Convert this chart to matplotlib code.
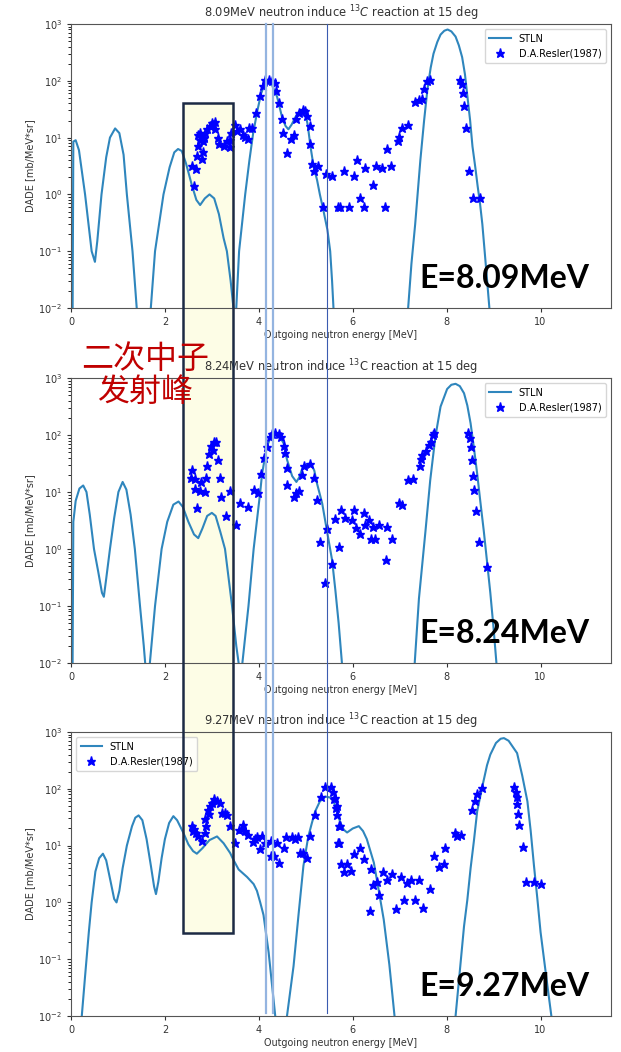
import matplotlib
matplotlib.use('Agg')
import matplotlib.pyplot as plt
from matplotlib.patches import Rectangle
from matplotlib.lines import Line2D
import matplotlib.transforms as mtransforms

CURVE = '#2f86bd'
STAR = '#0000ff'

# ---- E = 8.09 MeV ----
x1_stln = [0.03, 0.05, 0.10, 0.17, 0.30, 0.44, 0.51, 0.56, 0.65, 0.75, 0.83, 0.94, 1.03, 1.12, 1.19, 1.31, 1.40, 1.45,
           1.65, 1.70, 1.79, 1.97, 2.10, 2.20, 2.28, 2.36, 2.45, 2.57, 2.67, 2.75, 2.85, 2.95, 3.05, 3.15, 3.25, 3.32, 3.40, 3.46, 3.50,
           3.52, 3.58, 3.71, 3.80, 3.88, 3.97, 4.05, 4.12, 4.20, 4.28, 4.39, 4.50, 4.57, 4.63, 4.70, 4.78, 4.86, 4.93, 4.99, 5.04,
           5.10, 5.17, 5.24, 5.30, 5.37, 5.46, 5.52, 5.56, 5.59, 5.62,
           7.15, 7.18, 7.25, 7.33, 7.44, 7.52, 7.59, 7.66, 7.72, 7.80, 7.87, 7.95, 8.02, 8.10, 8.19, 8.26, 8.33, 8.39, 8.44, 8.50,
           8.55, 8.61, 8.66, 8.71, 8.76, 8.85, 8.91, 8.95]
y1_stln = [0.001, 8.5, 9.0, 6.0, 1.0, 0.1, 0.065, 0.15, 1.0, 4.5, 10, 14.5, 12, 5, 1.0, 0.1, 0.01, 0.004,
           0.003, 0.01, 0.1, 1.0, 3.0, 5.5, 6.3, 5.8, 3.5, 1.5, 0.8, 0.65, 0.85, 1.0, 0.85, 0.45, 0.17, 0.1, 0.03, 0.01, 0.004,
           0.01, 0.1, 1.0, 4.0, 12, 30, 60, 85, 95, 85, 52, 22, 16, 14, 17, 23, 29, 31, 27, 17,
           7, 3, 1.8, 1.0, 0.55, 0.24, 0.1, 0.03, 0.01, 0.004,
           0.004, 0.01, 0.06, 0.3, 4, 20, 70, 170, 300, 480, 650, 760, 800, 740, 600, 420, 260, 130, 55, 20,
           7, 3, 1.4, 0.7, 0.3, 0.04, 0.01, 0.004]
x1_exp = [2.57, 2.67, 2.61, 2.68, 2.79, 2.82, 2.71, 2.74, 2.71, 2.79, 2.82, 2.86, 2.75, 2.84, 2.89, 2.95, 3.00, 3.07,
          3.03, 3.07, 3.13, 3.16, 3.25, 3.32, 3.38, 3.40, 3.38, 3.50, 3.53, 3.60, 3.66, 3.71, 3.76, 3.80, 3.85, 3.94,
          4.03, 4.09, 4.14, 4.21, 4.28, 4.35, 4.37, 4.44, 4.49, 4.51, 4.68, 4.75, 4.61, 4.80, 4.85, 4.94, 4.99, 5.02,
          5.08, 5.10, 5.13, 5.17, 5.25, 5.44, 5.56, 5.37, 5.68, 5.72, 5.82, 5.91, 6.02, 6.10, 6.15, 6.23, 6.27, 6.43,
          6.50, 6.62, 6.68, 6.74, 6.82, 6.96, 6.99, 7.05, 7.17, 7.33, 7.41, 7.48, 7.51, 7.58, 7.65,
          8.28, 8.33, 8.35, 8.38, 8.42, 8.47, 8.57, 8.71]
y1_exp = [3.2, 2.8, 1.4, 4.8, 4.2, 5.5, 7.2, 9.1, 11, 10, 8.7, 12, 12, 9.8, 14, 16, 18, 19,
          17, 14, 10, 7.8, 7.2, 8.6, 6.9, 12, 9.1, 17, 13, 14, 11, 10.4, 9.5, 15, 15, 27,
          53, 81, 102, 102, 98, 91, 65, 41, 21, 12, 9.5, 11, 5.4, 21, 27, 31, 29, 24,
          16, 7.6, 3.5, 2.6, 3.1, 2.3, 2.1, 0.6, 0.6, 0.6, 2.6, 0.6, 2.1, 4.0, 0.87, 0.6, 2.9, 1.45,
          3.2, 2.9, 0.6, 6.3, 3.2, 8.7, 10.2, 15, 17, 43, 45, 47, 71, 100, 105,
          105, 89, 60, 36, 14.5, 2.6, 0.87, 0.87]

# ---- E = 8.24 MeV ----
x2_stln = [0.03, 0.05, 0.10, 0.18, 0.26, 0.33, 0.40, 0.49, 0.58, 0.66, 0.70, 0.75, 0.83, 0.92, 1.01, 1.10, 1.18, 1.27,
           1.36, 1.47, 1.55, 1.58, 1.62,
           1.65, 1.68, 1.79, 1.93, 2.05, 2.18, 2.29, 2.38, 2.50, 2.62, 2.71, 2.80, 2.90, 3.00, 3.08, 3.18, 3.28, 3.43,
           3.52, 3.57, 3.60,
           3.62, 3.65, 3.78, 3.89, 4.03, 4.07, 4.17, 4.26, 4.35, 4.44, 4.53, 4.60, 4.71, 4.80, 4.86, 4.92, 5.00, 5.10,
           5.18, 5.24, 5.35, 5.45, 5.56, 5.63, 5.70, 5.77, 5.80,
           7.29, 7.32, 7.41, 7.55, 7.65, 7.76, 7.87, 8.01, 8.10, 8.19, 8.28, 8.37, 8.44, 8.51, 8.58, 8.65, 8.72, 8.79,
           8.86, 8.93, 9.00, 9.06, 9.10]
y2_stln = [0.002, 3.0, 7, 11.5, 13, 10, 4, 1.0, 0.4, 0.17, 0.145, 0.3, 1.0, 3.5, 10, 15, 11, 4,
           1.0, 0.1, 0.02, 0.01, 0.004,
           0.004, 0.01, 0.1, 1.0, 3, 6, 6.8, 5.5, 3, 1.8, 1.55, 2.3, 3.8, 4.3, 3.8, 2, 1.0, 0.1,
           0.02, 0.01, 0.004,
           0.004, 0.01, 0.1, 1.0, 10, 21, 62, 95, 107, 95, 71, 37, 19, 15, 18, 25, 30, 32,
           24, 14, 6.3, 2.1, 0.64, 0.19, 0.05, 0.01, 0.004,
           0.004, 0.01, 0.135, 2.1, 16, 93, 314, 640, 760, 790, 720, 540, 330, 160, 60, 21, 6.5, 2.1,
           0.6, 0.17, 0.04, 0.01, 0.004]
x2_exp = [2.57, 2.55, 2.64, 2.64, 2.74, 2.77, 2.86, 2.88, 2.68, 2.89, 2.93, 2.98, 3.05, 3.09, 3.03, 3.14, 3.18,
          3.20, 3.30, 3.39, 3.52, 3.59, 3.78, 3.90, 3.99, 4.04, 4.12, 4.17, 4.23, 4.28, 4.35, 4.42, 4.48, 4.53,
          4.56, 4.60, 4.61, 4.74, 4.80, 4.85, 4.93, 4.97, 5.10, 5.18, 5.24, 5.45, 5.31, 5.56, 5.40, 5.63, 5.70,
          5.76, 5.84, 5.98, 6.02, 6.08, 6.15, 6.23, 6.27, 6.34, 6.38, 6.43, 6.48, 6.55, 6.70, 6.74, 6.84, 6.98,
          7.04, 7.17, 7.28, 7.43, 7.46, 7.48, 7.55, 7.62, 7.67, 7.70, 7.73,
          8.45, 8.49, 8.52, 8.54, 8.56, 8.59, 8.62, 8.68, 8.85]
y2_exp = [24, 17.5, 17, 11.5, 10.5, 15, 10, 17.5, 5.3, 29, 47, 65, 76, 76, 55, 37, 17.5,
          8.1, 3.8, 10.5, 2.6, 6.3, 5.5, 11, 9.6, 21, 39, 62, 93, 105, 110, 105, 93, 65,
          48, 26, 13, 8.3, 9.6, 10.5, 20, 28, 31, 17.5, 7.1, 2.2, 1.35, 0.55, 0.25, 3.3, 1.1,
          4.8, 3.5, 3.2, 4.8, 2.3, 1.8, 4.3, 2.6, 3.2, 1.5, 2.4, 1.5, 2.6, 0.65, 2.4, 1.5, 6.3,
          5.9, 16, 17, 28, 38, 45, 53, 66, 76, 100, 107,
          107, 88, 62, 37, 19, 11, 4.7, 1.35, 0.49]

# ---- E = 9.27 MeV ----
x3_stln = [0.20, 0.23, 0.30, 0.38, 0.44, 0.52, 0.60, 0.68, 0.75, 0.85, 0.92, 0.97, 1.03, 1.10, 1.19, 1.30, 1.37, 1.44,
           1.52, 1.61, 1.70, 1.77, 1.81, 1.86, 1.93, 2.00, 2.09, 2.18, 2.26, 2.39, 2.50, 2.60, 2.68, 2.80, 2.95, 3.11,
           3.25, 3.39, 3.46, 3.57, 3.75, 3.89, 3.96, 4.03, 4.10, 4.21, 4.30, 4.35, 4.38,
           4.57, 4.60, 4.74, 4.85, 4.95, 5.05, 5.13, 5.20, 5.30, 5.42, 5.52, 5.59, 5.66, 5.74, 5.81, 5.88, 6.00, 6.13,
           6.22, 6.30, 6.45, 6.55, 6.66, 6.78, 6.89, 6.93,
           8.16, 8.19, 8.29, 8.37, 8.44, 8.51, 8.58, 8.65, 8.76, 8.86, 8.93, 9.05, 9.15, 9.22, 9.32, 9.42, 9.50, 9.61,
           9.72, 9.79, 9.86, 9.93, 10.00, 10.12, 10.23, 10.27]
y3_stln = [0.004, 0.01, 0.05, 0.3, 1.0, 3.5, 6, 7.2, 5.5, 2.2, 1.15, 1.0, 1.6, 4, 10, 22, 31, 34,
           28, 13, 4.5, 1.9, 1.4, 2.3, 6, 13, 25, 33, 28, 17, 10.5, 8, 7.2, 9, 12.5, 14.5,
           11, 7.4, 5.6, 3.8, 2.8, 2.1, 1.6, 1.0, 0.6, 0.13, 0.025, 0.01, 0.004,
           0.004, 0.01, 0.076, 0.66, 4.4, 14, 25, 40, 60, 73, 70, 62, 40, 25, 19, 17, 20, 22,
           18, 13, 5, 1.7, 0.5, 0.08, 0.01, 0.004,
           0.004, 0.01, 0.075, 0.38, 1.1, 4, 12, 40, 110, 260, 400, 640, 760, 780, 700, 530, 425, 170,
           60, 18, 4.4, 1.2, 0.3, 0.05, 0.01, 0.004]
x3_exp = [2.57, 2.62, 2.60, 2.67, 2.71, 2.79, 2.86, 2.88, 2.86, 2.91, 2.93, 2.95, 3.00, 3.05, 3.11, 3.18, 3.21,
          3.28, 3.33, 3.38, 3.50, 3.57, 3.64, 3.67, 3.71, 3.78, 3.87, 3.92, 3.97, 4.02, 4.07, 4.14, 4.25, 4.26,
          4.33, 4.39, 4.44, 4.54, 4.58, 4.71, 4.78, 4.83, 4.88, 4.95, 5.03, 5.10, 5.20, 5.32, 5.40, 5.54, 5.59,
          5.63, 5.66, 5.70, 5.70, 5.61, 5.65, 5.67, 5.72, 5.68, 5.75, 5.88, 5.82, 5.96, 6.03, 6.15, 6.25, 6.39,
          6.43, 6.52, 6.57, 6.36, 6.65, 6.73, 6.84, 6.92, 7.03, 7.10, 7.16, 7.24, 7.32, 7.41, 7.49, 7.65, 7.74,
          7.83, 7.94, 7.97, 8.17, 8.22, 8.31, 8.54, 8.61, 8.65, 8.76,
          9.43, 9.47, 9.49, 9.50, 9.52, 9.55, 9.63, 9.70, 9.86, 10.00]
y3_exp = [22, 19.5, 18, 17, 14.5, 12, 17, 22, 29, 42, 36, 50, 56, 65, 60, 56, 37,
          37, 34, 22, 11, 19, 19.5, 23, 18, 15.5, 11.5, 13, 14, 8.7, 15, 11, 12, 6.6,
          6.6, 11, 5, 9.1, 14, 14, 13, 14, 7.4, 7.4, 6, 14.5, 34, 73, 107, 107, 87,
          69, 49, 22, 11, 66, 46, 35, 22, 11, 4.8, 4.8, 3.4, 3.5, 7.2, 9.1, 5.9, 3.9,
          2.0, 2.3, 1.35, 0.72, 3.4, 2.5, 3.1, 0.78, 2.8, 1.1, 2.2, 2.5, 1.1, 2.5, 0.81, 1.7, 6.5,
          4.2, 4.8, 9.1, 17, 14.5, 15.5, 43, 60, 81, 105,
          107, 89, 71, 53, 36, 23, 9.6, 2.3, 2.3, 2.1]

panels = [
    (x1_stln, y1_stln, x1_exp, y1_exp, '8.09MeV neutron induce $^{13}C$ reaction at 15 deg', 'E=8.09MeV', 'upper right'),
    (x2_stln, y2_stln, x2_exp, y2_exp, '8.24MeV neutron induce $^{13}$C reaction at 15 deg', 'E=8.24MeV', 'upper right'),
    (x3_stln, y3_stln, x3_exp, y3_exp, '9.27MeV neutron induce $^{13}$C reaction at 15 deg', 'E=9.27MeV', 'upper left'),
]

fig = plt.figure(figsize=(6.21, 10.52), dpi=100)
fig.patch.set_facecolor('white')

axes_rects = [[0.1143, 0.7072, 0.8696, 0.2700],
              [0.1143, 0.3698, 0.8696, 0.2709],
              [0.1143, 0.0342, 0.8696, 0.2700]]

axes = []
for rect, (xs, ys, xe, ye, title, etext, loc) in zip(axes_rects, panels):
    ax = fig.add_axes(rect)
    ax.set_facecolor('none')
    ax.plot(xs, ys, color=CURVE, lw=1.5, label='STLN')
    ax.plot(xe, ye, '*', color=STAR, ms=6.5, label='D.A.Resler(1987)')
    ax.set_yscale('log')
    ax.set_ylim(1e-2, 1e3)
    ax.set_xlim(0, 11.5)
    ax.set_xticks([0, 2, 4, 6, 8, 10])
    ax.tick_params(labelsize=7, colors='#333333', length=3)
    for s in ax.spines.values():
        s.set_color('#555555')
    ax.set_title(title, fontsize=8.3, color='#333333', pad=5)
    ax.set_xlabel('Outgoing neutron energy [MeV]', fontsize=6.9, color='#333333', labelpad=2)
    ax.set_ylabel('DADE [mb/MeV*sr]', fontsize=7, color='#333333', labelpad=2)
    ax.legend(loc=loc, fontsize=7, handlelength=2.2, borderpad=0.5)
    ax.text(0.803, 0.07, etext, transform=ax.transAxes, ha='center', va='baseline',
            fontsize=23, fontweight='bold', family='Lato', color='black', zorder=10)
    axes.append(ax)

# overlay: highlighted band and guide lines across all panels
trans = mtransforms.blended_transform_factory(axes[0].transData, fig.transFigure)
band_x0, band_x1 = 2.39, 3.45
band_y0, band_y1 = 0.113, 0.902
fig.add_artist(Rectangle((band_x0, band_y0), band_x1 - band_x0, band_y1 - band_y0, transform=trans,
                         facecolor='#fdfde6', edgecolor='none', zorder=-1))
fig.add_artist(Rectangle((band_x0, band_y0), band_x1 - band_x0, band_y1 - band_y0, transform=trans,
                         facecolor='none', edgecolor='#1c2a44', lw=1.8, zorder=5))

for xv, col, lw in [(4.16, '#94b4e0', 1.6), (4.31, '#94b4e0', 1.6), (5.46, '#3a5bb0', 0.8)]:
    fig.add_artist(Line2D([xv, xv], [0.977, 0.037], transform=trans, color=col, lw=lw, zorder=6))

fig.text(0.2335, 0.6430, '二次中子\n发射峰', ha='center', va='center', fontsize=23,
         color='#c00000', family=['Noto Sans CJK SC', 'DejaVu Sans'], linespacing=1.05, zorder=7)

fig.savefig('out.png', dpi=100, facecolor='white')
